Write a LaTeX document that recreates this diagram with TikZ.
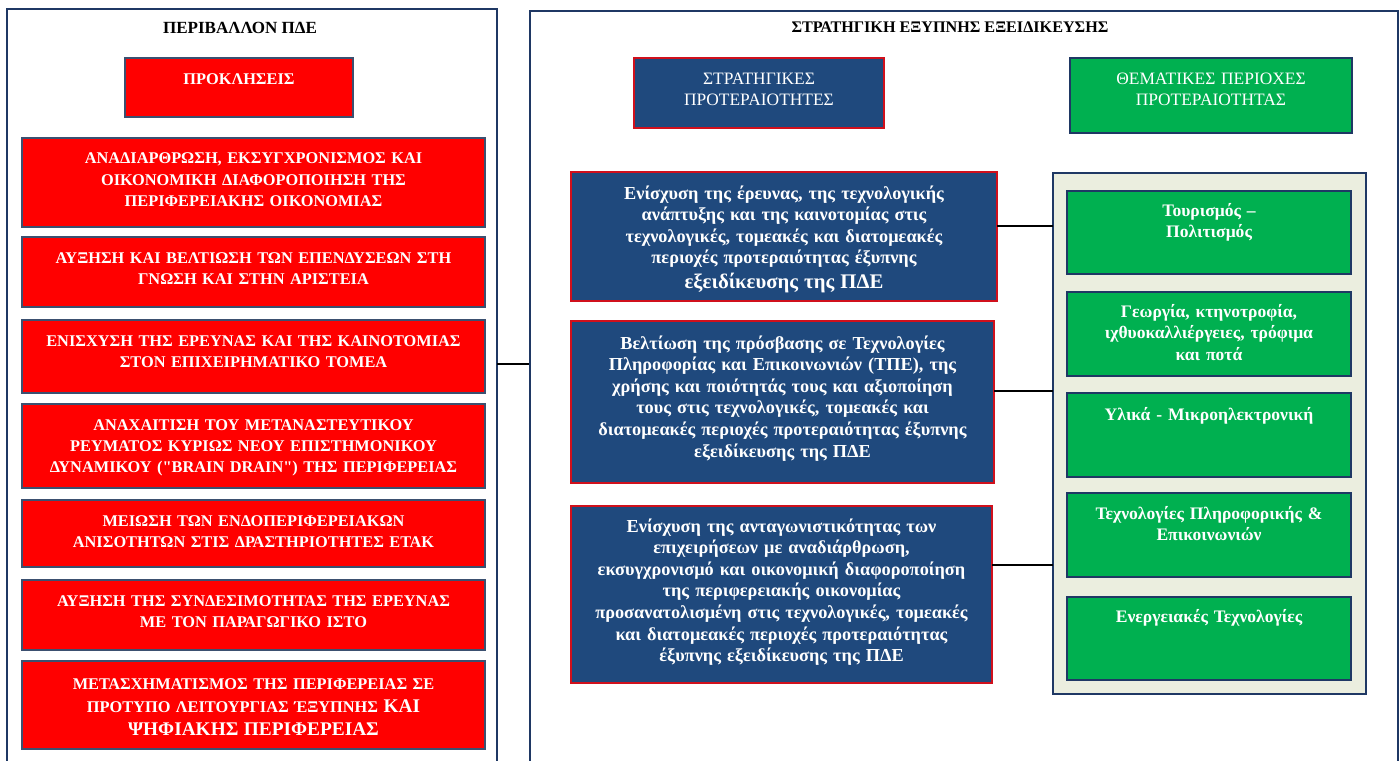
\documentclass[tikz,border=0pt]{standalone}
\usepackage{fontspec}
\setmainfont{Liberation Serif}[Ligatures=TeXOff]
\usetikzlibrary{positioning}
\definecolor{navy}{HTML}{1F3864}
\definecolor{slate}{HTML}{3B5070}
\definecolor{boxred}{HTML}{FF0000}
\definecolor{boxblue}{HTML}{1F497D}
\definecolor{edgered}{HTML}{D0101C}
\definecolor{boxgreen}{HTML}{00B050}
\definecolor{pale}{HTML}{EBEEDF}

\begin{document}
\begin{tikzpicture}[
  panel/.style={draw=navy, line width=1.1pt},
  link/.style={draw=black, line width=1.1pt},
  title/.style={font=\bfseries\fontsize{9.2}{11}\selectfont},
  tbox/.style={anchor=north, align=center, inner xsep=2mm, inner ysep=0pt, outer sep=0pt, text=white, line width=1.2pt},
  redbox/.style={tbox, fill=boxred, draw=slate, text width=8.86cm, text height=0.52cm, font=\bfseries\fontsize{9.3}{12.2}\selectfont},
  bluebox/.style={tbox, fill=boxblue, draw=edgered, text height=0.54cm, font=\bfseries\fontsize{10.4}{12.3}\selectfont},
  greenbox/.style={tbox, fill=boxgreen, draw=navy, text width=5.28cm, text height=0.5cm, font=\bfseries\fontsize{10}{12.5}\selectfont}
]
\clip (0,0) rectangle (28,15.2);
\fill[white] (0,0) rectangle (28,15.2);
% left panel
\draw[panel] (0.14,15.02) rectangle (9.94,-1);
\node[title, font=\bfseries\fontsize{9.7}{11}\selectfont] (envtitle) at (4.8,14.64) {ΠΕΡΙΒΑΛΛΟΝ ΠΔΕ};
\node[redbox, text width=4.16cm, text height=0.54cm, text depth=0.64cm] (chal) at (4.78,14.04) {ΠΡΟΚΛΗΣΕΙΣ};
\node[redbox, text depth=1.26cm] (r1) at (5.07,12.44) {ΑΝΑΔΙΑΡΘΡΩΣΗ, ΕΚΣΥΓΧΡΟΝΙΣΜΟΣ ΚΑΙ\\ΟΙΚΟΝΟΜΙΚΗ ΔΙΑΦΟΡΟΠΟΙΗΣΗ ΤΗΣ\\ΠΕΡΙΦΕΡΕΙΑΚΗΣ ΟΙΚΟΝΟΜΙΑΣ};
\node[redbox, text depth=0.88cm] (r2) at (5.07,10.46) {ΑΥΞΗΣΗ ΚΑΙ ΒΕΛΤΙΩΣΗ ΤΩΝ ΕΠΕΝΔΥΣΕΩΝ ΣΤΗ\\ΓΝΩΣΗ ΚΑΙ ΣΤΗΝ ΑΡΙΣΤΕΙΑ};
\node[redbox, text depth=0.94cm] (r3) at (5.07,8.80) {ΕΝΙΣΧΥΣΗ ΤΗΣ ΕΡΕΥΝΑΣ ΚΑΙ ΤΗΣ ΚΑΙΝΟΤΟΜΙΑΣ\\ΣΤΟΝ ΕΠΙΧΕΙΡΗΜΑΤΙΚΟ ΤΟΜΕΑ};
\node[redbox, text depth=1.16cm] (r4) at (5.07,7.12) {ΑΝΑΧΑΙΤΙΣΗ ΤΟΥ ΜΕΤΑΝΑΣΤΕΥΤΙΚΟΥ\\ΡΕΥΜΑΤΟΣ ΚΥΡΙΩΣ ΝΕΟΥ ΕΠΙΣΤΗΜΟΝΙΚΟΥ\\ΔΥΝΑΜΙΚΟΥ ("BRAIN DRAIN") ΤΗΣ ΠΕΡΙΦΕΡΕΙΑΣ};
\node[redbox, text depth=0.82cm] (r5) at (5.07,5.20) {ΜΕΙΩΣΗ ΤΩΝ ΕΝΔΟΠΕΡΙΦΕΡΕΙΑΚΩΝ\\ΑΝΙΣΟΤΗΤΩΝ ΣΤΙΣ ΔΡΑΣΤΗΡΙΟΤΗΤΕΣ ΕΤΑΚ};
\node[redbox, text depth=0.88cm] (r6) at (5.07,3.60) {ΑΥΞΗΣΗ ΤΗΣ ΣΥΝΔΕΣΙΜΟΤΗΤΑΣ ΤΗΣ ΕΡΕΥΝΑΣ\\ΜΕ ΤΟΝ ΠΑΡΑΓΩΓΙΚΟ ΙΣΤΟ};
\node[redbox, text height=0.56cm, text depth=1.20cm] (r7) at (5.07,1.98) {ΜΕΤΑΣΧΗΜΑΤΙΣΜΟΣ ΤΗΣ ΠΕΡΙΦΕΡΕΙΑΣ ΣΕ\\[1pt]ΠΡΟΤΥΠΟ ΛΕΙΤΟΥΡΓΙΑΣ ΈΞΥΠΝΗΣ {\fontsize{11}{13}\selectfont ΚΑΙ}\\[1pt]{\fontsize{11}{13}\selectfont ΨΗΦΙΑΚΗΣ ΠΕΡΙΦΕΡΕΙΑΣ}};
\coordinate (lp) at (9.94,7.92);
\coordinate (rp) at (10.6,7.92);
\draw[link] (lp) -- (rp);
% right panel
\draw[panel] (10.6,14.98) rectangle (27.96,-1);
\node[title] (sstitle) at (19.0,14.66) {ΣΤΡΑΤΗΓΙΚΗ ΕΞΥΠΝΗΣ ΕΞΕΙΔΙΚΕΥΣΗΣ};
\node[bluebox, text width=4.6cm, text depth=0.86cm, font=\fontsize{9.9}{11.9}\selectfont] (prio) at (15.18,14.04) {ΣΤΡΑΤΗΓΙΚΕΣ\\ΠΡΟΤΕΡΑΙΟΤΗΤΕΣ};
\node[greenbox, text width=5.24cm, text height=0.54cm, text depth=0.96cm, font=\fontsize{9.9}{11.9}\selectfont] (them) at (24.22,14.04) {ΘΕΜΑΤΙΚΕΣ ΠΕΡΙΟΧΕΣ\\ΠΡΟΤΕΡΑΙΟΤΗΤΑΣ};
\node[bluebox, text width=8.12cm, text depth=2.04cm] (b1) at (15.68,11.76) {Ενίσχυση της έρευνας, της τεχνολογικής\\ανάπτυξης και της καινοτομίας στις\\τεχνολογικές, τομεακές και διατομεακές\\περιοχές προτεραιότητας έξυπνης\\[2pt]{\fontsize{11.8}{14}\selectfont εξειδίκευσης της ΠΔΕ}};
\node[bluebox, text width=8.06cm, text height=0.56cm, text depth=2.68cm] (b2) at (15.65,8.78) {Βελτίωση της πρόσβασης σε Τεχνολογίες\\Πληροφορίας και Επικοινωνιών (ΤΠΕ), της\\χρήσης και ποιότητάς τους και αξιοποίηση\\τους στις τεχνολογικές, τομεακές και\\διατομεακές περιοχές προτεραιότητας έξυπνης\\εξειδίκευσης της ΠΔΕ};
\node[bluebox, text width=8.02cm, text height=0.52cm, text depth=3.02cm] (b3) at (15.63,5.08) {Ενίσχυση της ανταγωνιστικότητας των\\επιχειρήσεων με αναδιάρθρωση,\\εκσυγχρονισμό και οικονομική διαφοροποίηση\\της περιφερειακής οικονομίας\\προσανατολισμένη στις τεχνολογικές, τομεακές\\και διατομεακές περιοχές προτεραιότητας\\έξυπνης εξειδίκευσης της ΠΔΕ};
\draw[draw=navy, fill=pale, line width=1.1pt] (21.06,11.74) rectangle (27.32,1.32);
\node[greenbox, text depth=1.16cm] (g1) at (24.18,11.38) {Τουρισμός –\\Πολιτισμός};
\node[greenbox, text depth=1.18cm] (g2) at (24.18,9.36) {Γεωργία, κτηνοτροφία,\\ιχθυοκαλλιέργειες, τρόφιμα\\και ποτά};
\node[greenbox, text height=0.54cm, text depth=1.14cm] (g3) at (24.18,7.34) {Υλικά - Μικροηλεκτρονική};
\node[greenbox, text height=0.52cm, text depth=1.16cm] (g4) at (24.18,5.34) {Τεχνολογίες Πληροφορικής \&\\Επικοινωνιών};
\node[greenbox, text depth=1.16cm] (g5) at (24.18,3.26) {Ενεργειακές Τεχνολογίες};
\coordinate (c1) at (21.06,10.68);
\coordinate (c2) at (21.06,7.38);
\coordinate (c3) at (21.06,3.90);
\draw[link] (b1.east |- c1) -- (c1);
\draw[link] (b2.east |- c2) -- (c2);
\draw[link] (b3.east |- c3) -- (c3);
\end{tikzpicture}
\end{document}
